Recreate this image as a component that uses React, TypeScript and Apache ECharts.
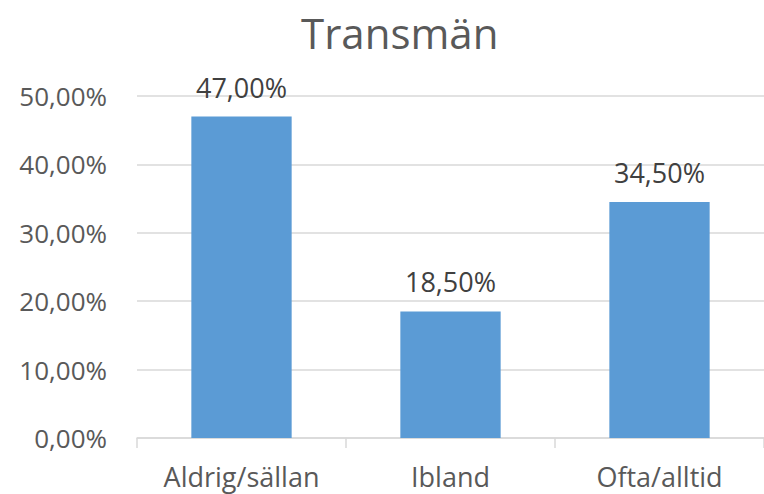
import React, { useEffect, useRef } from "react";
import * as echarts from "echarts";

const title = "Transmän";
const categories = ["Aldrig/sällan", "Ibland", "Ofta/alltid"];
const values = [47.0, 18.5, 34.5];
const yMin = 0;
const yMax = 50;
const yStep = 10;

const fmt = (v: number) => v.toFixed(2).replace(".", ",") + "%";

export default function App() {
  const ref = useRef<HTMLDivElement>(null);
  useEffect(() => {
    const chart = echarts.init(ref.current!, null, { renderer: "svg" });
    const font = "Open Sans";
    chart.setOption({
      animation: false,
      backgroundColor: "#ffffff",
      title: {
        text: title,
        left: 296,
        top: 6,
        textStyle: { color: "#595959", fontSize: 42, fontWeight: "normal", fontFamily: font },
      },
      grid: { left: 137, top: 96, bottom: 56, width: 633 },
      xAxis: {
        type: "category",
        data: categories,
        axisLine: { lineStyle: { color: "#D9D9D9", width: 1.5 } },
        axisTick: { show: true, length: 10, lineStyle: { color: "#D9D9D9", width: 1.5 } },
        axisLabel: { color: "#595959", fontSize: 27, lineHeight: 30, fontFamily: font, margin: 23 },
      },
      yAxis: {
        type: "value",
        min: yMin,
        max: yMax,
        interval: yStep,
        axisLine: { show: false },
        axisTick: { show: false },
        splitLine: { lineStyle: { color: "#D9D9D9", width: 1.5 } },
        axisLabel: {
          color: "#595959",
          fontSize: 26,
          fontFamily: font,
          margin: 30,
          formatter: (v: number) => fmt(v),
        },
      },
      series: [
        {
          type: "bar",
          data: values,
          barWidth: "48%",
          itemStyle: { color: "#5B9BD5" },
          label: {
            show: true,
            position: "top",
            distance: 16,
            color: "#404040",
            fontSize: 27,
            fontFamily: font,
            formatter: (p: any) => fmt(p.value),
          },
        },
      ],
    });
    return () => chart.dispose();
  }, []);
  return (
    <div
      ref={ref}
      style={{ position: "fixed", left: 0, top: 0, width: 764, height: 494 }}
    />
  );
}
